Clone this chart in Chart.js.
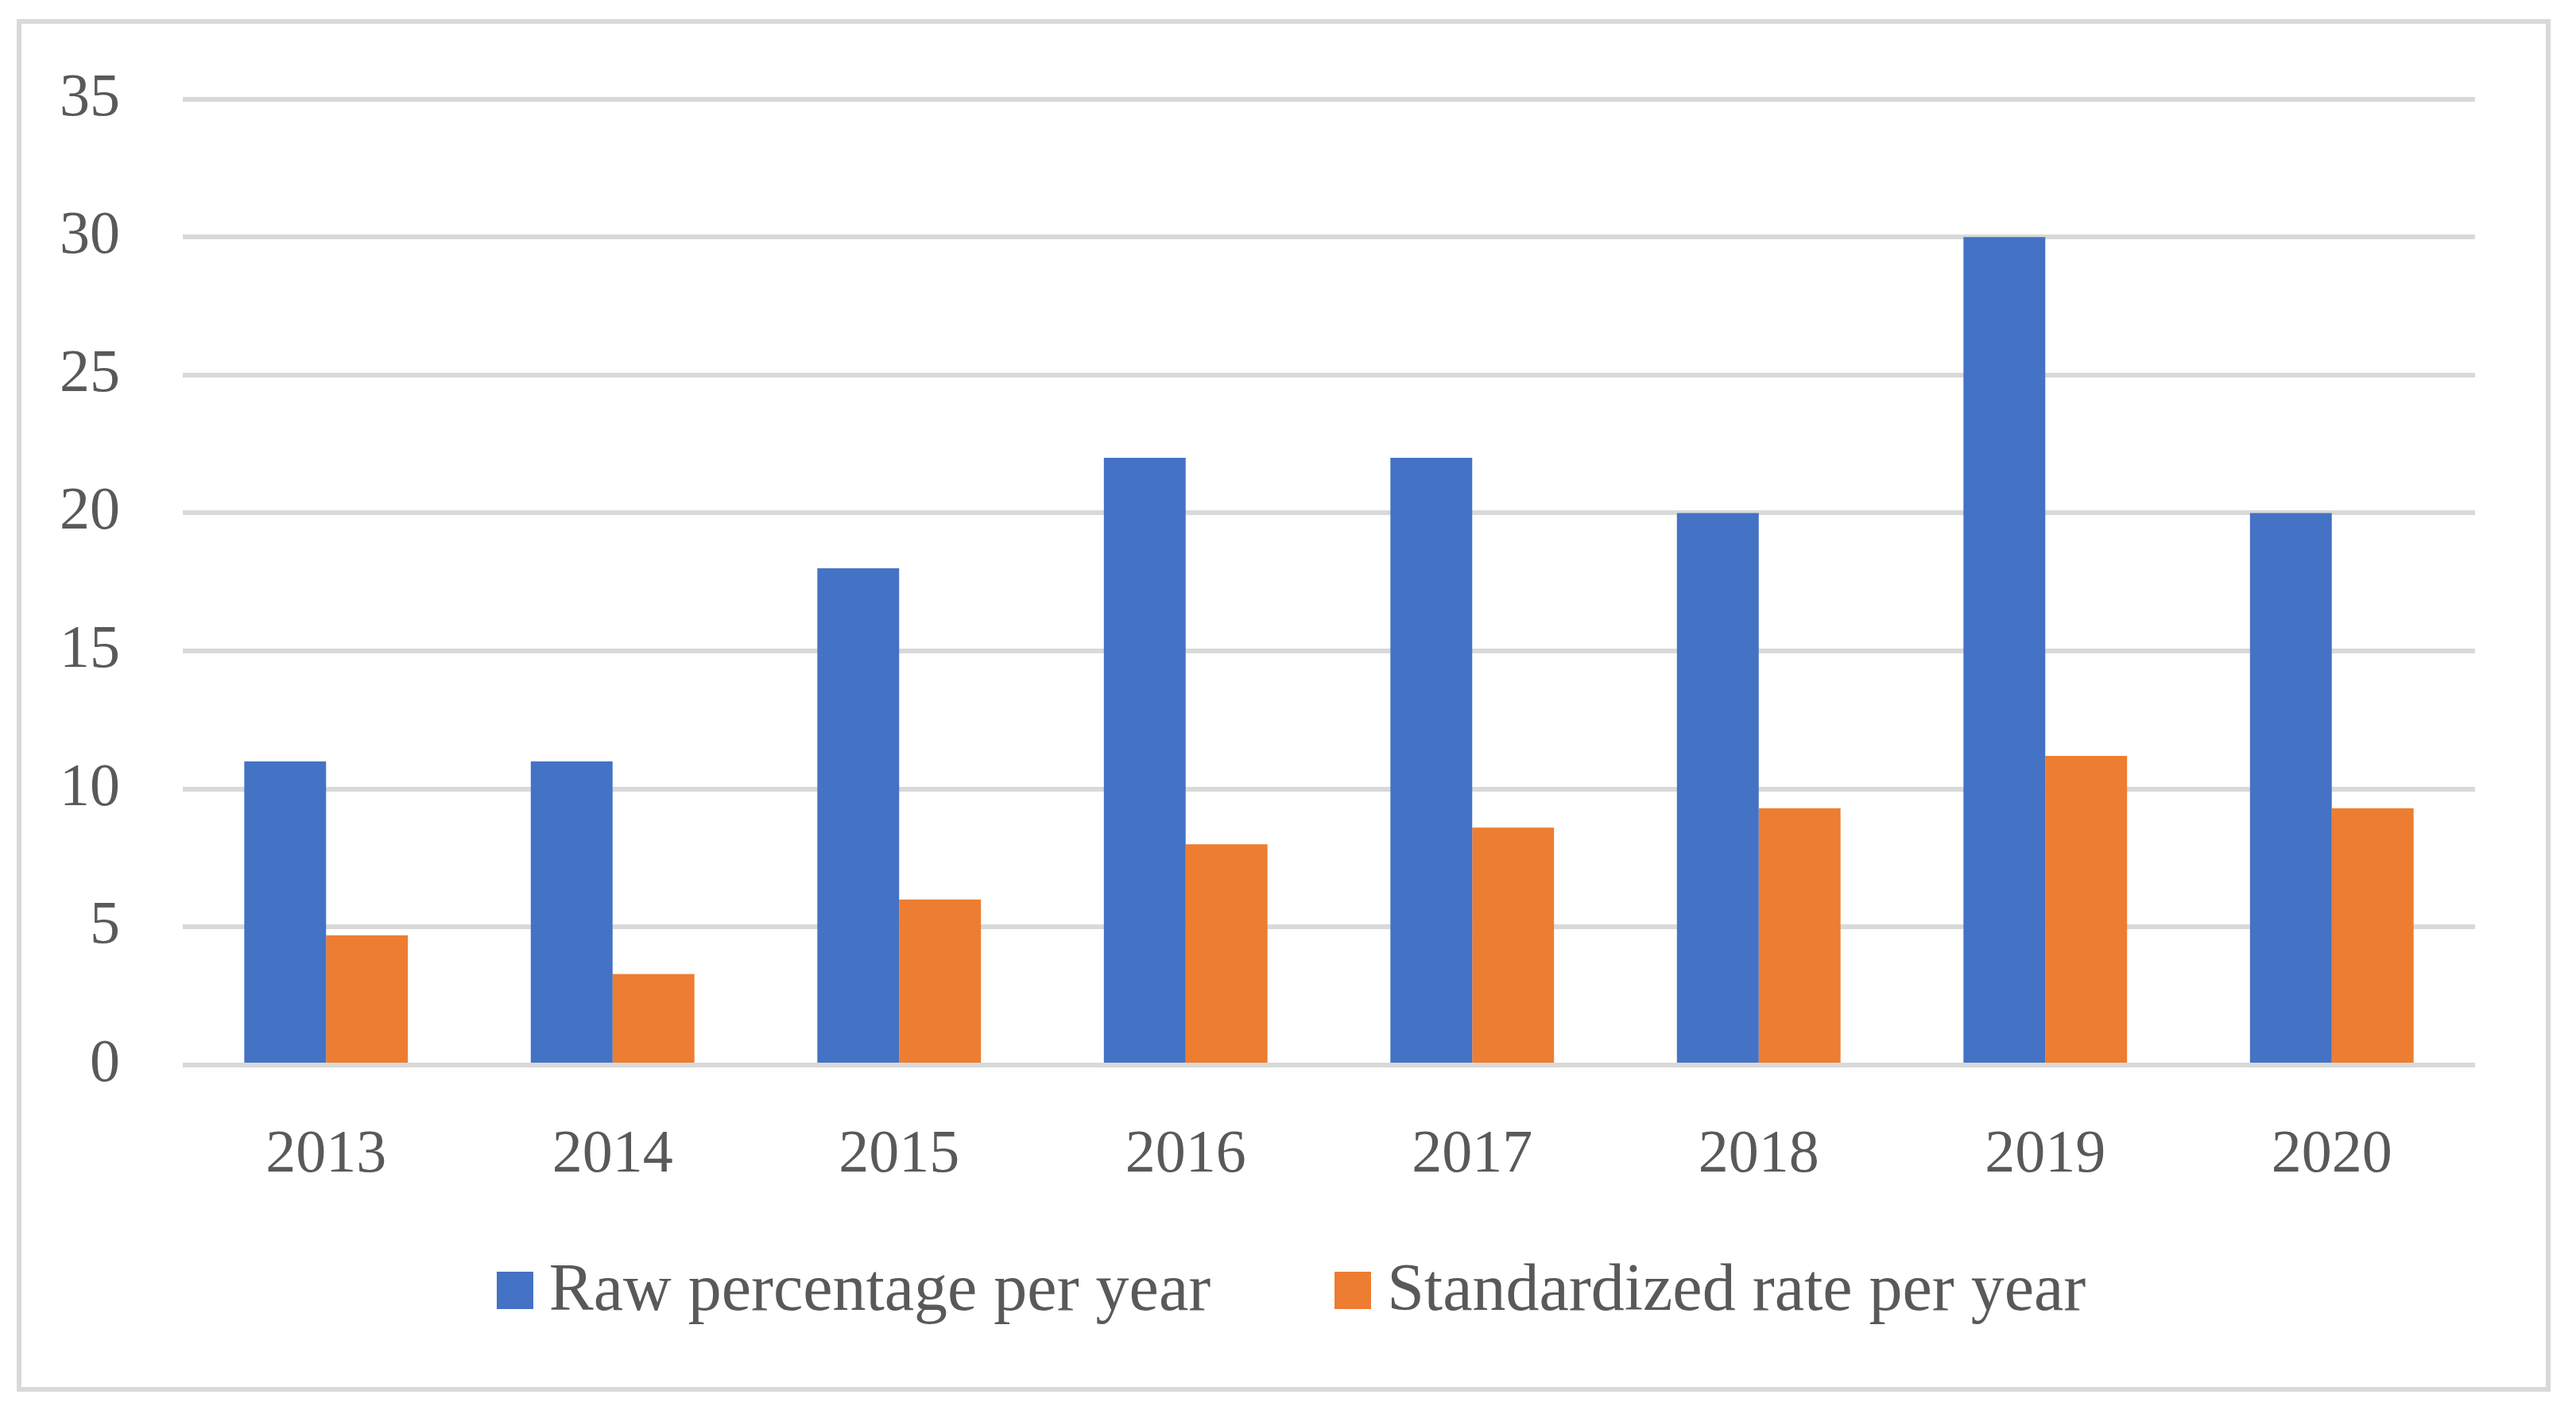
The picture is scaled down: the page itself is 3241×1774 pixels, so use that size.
<!DOCTYPE html>
<html>
<head>
<meta charset="utf-8">
<script src="https://cdn.jsdelivr.net/npm/chart.js@4.4.1/dist/chart.umd.min.js"></script>
<style>
  html, body { margin: 0; padding: 0; background: #ffffff; }
  #frame {
    position: absolute; left: 21px; top: 24px; width: 3188px; height: 1727px;
    box-sizing: border-box; border: 6px solid #d9d9d9;
  }
  #chart-box { position: absolute; left: 0; top: 0; width: 3241px; height: 1774px; }
  #legend-node {
    position: absolute; left: 8px; right: 0; top: 1578px; height: 84px;
    display: flex; justify-content: center; align-items: center;
    font-family: "Liberation Serif", serif; font-size: 84px; line-height: 1; color: #595959;
  }
  .legend-item { display: flex; align-items: center; margin: 0 78px; }
  .legend-swatch { width: 46px; height: 47px; margin-right: 20px; margin-top: 6px; }
</style>
</head>
<body>
<div id="frame"></div>
<div id="chart-box"><canvas id="chart-node"></canvas></div>
<div id="legend-node"></div>
<script>

// DATA //
const years = ['2013', '2014', '2015', '2016', '2017', '2018', '2019', '2020'];
const rawPercentage = [11, 11, 18, 22, 22, 20, 30, 20];
const standardizedRate = [4.7, 3.3, 6.0, 8.0, 8.6, 9.3, 11.2, 9.3];
const seriesNames = ['Raw percentage per year', 'Standardized rate per year'];
const seriesColors = ['#4472c4', '#ed7d31'];

const TEXT_COLOR = '#595959';
const GRID_COLOR = '#d9d9d9';

// HTML LEGEND //
const htmlLegendPlugin = {
  id: 'htmlLegend',
  afterUpdate(chart) {
    const legendNode = document.getElementById('legend-node');
    legendNode.innerHTML = '';
    chart.data.datasets.forEach((dataset) => {
      const item = document.createElement('div');
      item.className = 'legend-item';
      const swatch = document.createElement('span');
      swatch.className = 'legend-swatch';
      swatch.style.background = dataset.backgroundColor;
      const label = document.createElement('span');
      label.textContent = dataset.label;
      item.appendChild(swatch);
      item.appendChild(label);
      legendNode.appendChild(item);
    });
  }
};

const chart = new Chart(document.getElementById('chart-node'), {
  type: 'bar',
  data: {
    labels: years,
    datasets: [
      {label: seriesNames[0], data: rawPercentage, backgroundColor: seriesColors[0]},
      {label: seriesNames[1], data: standardizedRate, backgroundColor: seriesColors[1]}
    ]
  },
  options: {
    responsive: true,
    maintainAspectRatio: false,
    animation: false,
    layout: {padding: {top: 116, right: 127, bottom: 234, left: 0}},
    datasets: {
      bar: {categoryPercentage: 0.571, barPercentage: 1.0, borderWidth: 0}
    },
    plugins: {
      legend: {display: false},
      title: {display: false},
      tooltip: {enabled: false}
    },
    scales: {
      x: {
        grid: {display: false},
        border: {display: false},
        ticks: {
          color: TEXT_COLOR,
          padding: 60,
          font: {family: '"Liberation Serif", serif', size: 76}
        },
        afterFit(scale) { scale.height = 200; }
      },
      y: {
        min: 0,
        max: 35,
        border: {display: false},
        grid: {color: GRID_COLOR, lineWidth: 6, drawTicks: false},
        ticks: {
          stepSize: 5,
          color: TEXT_COLOR,
          padding: 79,
          font: {family: '"Liberation Serif", serif', size: 76}
        },
        afterFit(scale) { scale.width = 230; }
      }
    }
  },
  plugins: [htmlLegendPlugin]
});

</script>
</body>
</html>
